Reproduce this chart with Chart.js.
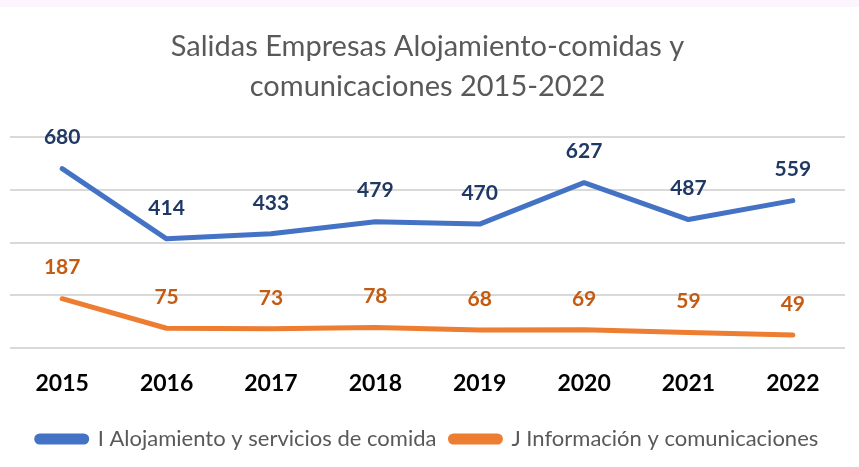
<!DOCTYPE html>
<html>
<head>
<meta charset="utf-8">
<script src="https://cdn.jsdelivr.net/npm/chart.js@4.4.0/dist/chart.umd.min.js"></script>
<style>
  html, body { margin: 0; padding: 0; background: #fff; }
  body { background: linear-gradient(#fdf5fd 0 7px, #fff 7px); }
  #wrap { width: 859px; height: 467px; }
</style>
</head>
<body>
<div id="wrap"><canvas id="chart"></canvas></div>
<script>
const years = ["2015", "2016", "2017", "2018", "2019", "2020", "2021", "2022"];
const alojamiento = [680, 414, 433, 479, 470, 627, 487, 559];
const informacion = [187, 75, 73, 78, 68, 69, 59, 49];
const seriesNames = ["I Alojamiento y servicios de comida", "J Información y comunicaciones"];
const titleLines = ["Salidas Empresas Alojamiento-comidas y", "comunicaciones 2015-2022"];

// draws the value above each point
const valueLabels = {
  id: "valueLabels",
  afterDatasetsDraw(chart) {
    const ctx = chart.ctx;
    ctx.save();
    ctx.font = "bold 21px Lato";
    ctx.textAlign = "center";
    ctx.textBaseline = "middle";
    chart.data.datasets.forEach((ds, i) => {
      const meta = chart.getDatasetMeta(i);
      ctx.fillStyle = ds.labelColor;
      meta.data.forEach((pt, j) => {
        ctx.fillText(ds.data[j], pt.x, pt.y - 31);
      });
    });
    ctx.restore();
  }
};

const ctx = document.getElementById("chart").getContext("2d");
new Chart(ctx, {
  type: "line",
  data: {
    labels: years,
    datasets: [{
      label: seriesNames[0],
      data: alojamiento,
      borderColor: "#4472C4",
      backgroundColor: "#4472C4",
      labelColor: "#1F3864",
      borderWidth: 5,
      pointRadius: 0,
      tension: 0,
      borderCapStyle: "round",
      borderJoinStyle: "round"
    }, {
      label: seriesNames[1],
      data: informacion,
      borderColor: "#ED7D31",
      backgroundColor: "#ED7D31",
      labelColor: "#C55A11",
      borderWidth: 5,
      pointRadius: 0,
      tension: 0,
      borderCapStyle: "round",
      borderJoinStyle: "round"
    }]
  },
  options: {
    responsive: true,
    maintainAspectRatio: false,
    animation: false,
    layout: { padding: { left: 10, right: 14, top: 0, bottom: 7 } },
    scales: {
      x: {
        offset: true,
        grid: { display: false },
        border: { display: false },
        ticks: {
          color: "#000",
          padding: 14,
          font: { family: "Lato", size: 23, weight: "bold" }
        },
        afterFit(scale) { scale.height = 66; }
      },
      y: {
        min: 0,
        max: 800,
        ticks: { display: false, stepSize: 200 },
        border: { display: false },
        grid: { color: "#d9d9d9", lineWidth: 2, drawTicks: false }
      }
    },
    plugins: {
      title: {
        display: true,
        text: titleLines,
        color: "#595959",
        font: { family: "Lato", size: 29, weight: "normal", lineHeight: 1.38 },
        padding: { top: 27, bottom: 30 }
      },
      legend: {
        position: "bottom",
        labels: {
          color: "#595959",
          font: { family: "Lato", size: 22 },
          boxWidth: 50,
          boxHeight: 6,
          padding: 14,
          useBorderRadius: true,
          borderRadius: 3
        }
      },
      tooltip: { enabled: false }
    }
  },
  plugins: [valueLabels]
});
</script>
</body>
</html>
